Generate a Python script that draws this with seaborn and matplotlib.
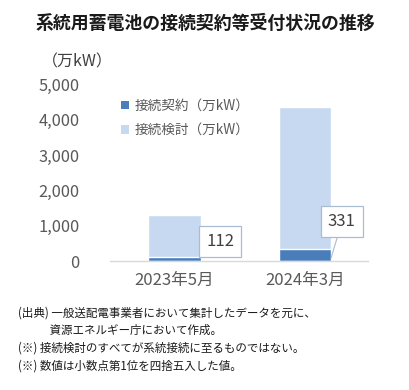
import matplotlib
matplotlib.use("Agg")
import matplotlib.pyplot as plt
import seaborn as sns
import pandas as pd
from matplotlib.patches import Patch

categories = ["2023年5月", "2024年3月"]
contract = [112, 331]          # 接続契約（万kW）
study_total = [1300, 4350]     # 接続検討（万kW）
contract_labels = ["112", "331"]
yticks = [0, 1000, 2000, 3000, 4000, 5000]
ytick_labels = ["0", "1,000", "2,000", "3,000", "4,000", "5,000"]

title = "系統用蓄電池の接続契約等受付状況の推移"
unit = "（万kW）"
legend_names = ["接続契約（万kW）", "接続検討（万kW）"]
notes = [
    "(出典) 一般送配電事業者において集計したデータを元に、",
    "            資源エネルギー庁において作成。",
    "(※) 接続検討のすべてが系統接続に至るものではない。",
    "(※) 数値は小数点第1位を四捨五入した値。",
]

sns.set_theme(style="white")
plt.rcParams['font.family'] = ['Noto Sans CJK JP', 'DejaVu Sans']

W, H = 410, 390
fig = plt.figure(figsize=(W / 100, H / 100), dpi=100)
fig.patch.set_facecolor("white")

ax_left, ax_right = 110, 368
ax_top, ax_bot = 84.5, 261
ax = fig.add_axes([ax_left / W, 1 - ax_bot / H, (ax_right - ax_left) / W, (ax_bot - ax_top) / H])

light = "#c6d9f1"
dark = "#4a7ebb"

df_study = pd.DataFrame({"cat": categories, "val": study_total})
df_con = pd.DataFrame({"cat": categories, "val": contract})
sns.barplot(data=df_study, x="cat", y="val", color=light, width=0.4, ax=ax, saturation=1)
sns.barplot(data=df_con, x="cat", y="val", color=dark, width=0.4, ax=ax, saturation=1)

ax.set_ylim(0, 5000)
ax.set_xlim(-0.494, 1.483)
ax.set_yticks(yticks)
ax.set_yticklabels(ytick_labels)
ax.set_xlabel("")
ax.set_ylabel("")
for s in ["top", "right", "left"]:
    ax.spines[s].set_visible(False)
ax.spines["bottom"].set_color("#d9d9d9")
ax.spines["bottom"].set_linewidth(1.0)
ax.tick_params(axis="y", length=0, pad=22, labelsize=11.8, labelcolor="#595959")
ax.tick_params(axis="x", length=0, pad=8, labelsize=12, labelcolor="#595959")

# data labels for contract
box = dict(boxstyle="square,pad=0.42", fc="white", ec="#a9bcd0", lw=0.9)
ax.annotate(contract_labels[0], xy=(0.2, contract[0]), xytext=(0.35, 540),
            fontsize=12, color="#404040", ha="center", va="center", bbox=box)
ax.annotate(contract_labels[1], xy=(1.2, 85), xytext=(1.283, 1105),
            fontsize=12, color="#404040", ha="center", va="center", bbox=box,
            arrowprops=dict(arrowstyle="-", color="#a9bcd0", lw=0.8, shrinkA=0, shrinkB=0))

handles = [Patch(facecolor=dark, edgecolor="none"), Patch(facecolor=light, edgecolor="none")]
ax.legend(handles, legend_names, loc="upper left", bbox_to_anchor=(0.02, 0.95),
          frameon=False, fontsize=9.8, handlelength=0.6, handleheight=0.6,
          handletextpad=0.4, labelspacing=0.75, labelcolor="#595959", borderaxespad=0)

fig.text(205 / W, 1 - 24 / H, title, ha="center", va="center", fontsize=12.9,
         fontweight="bold", color="#1a1a1a")
fig.text(42 / W, 1 - 62 / H, unit, ha="left", va="center", fontsize=11.5, color="#404040")

ys = [313, 330, 348, 366]
for t, y in zip(notes, ys):
    fig.text(18 / W, 1 - y / H, t, ha="left", va="center", fontsize=8.3, color="#1a1a1a")

fig.savefig("out.png", dpi=100, facecolor="white")
